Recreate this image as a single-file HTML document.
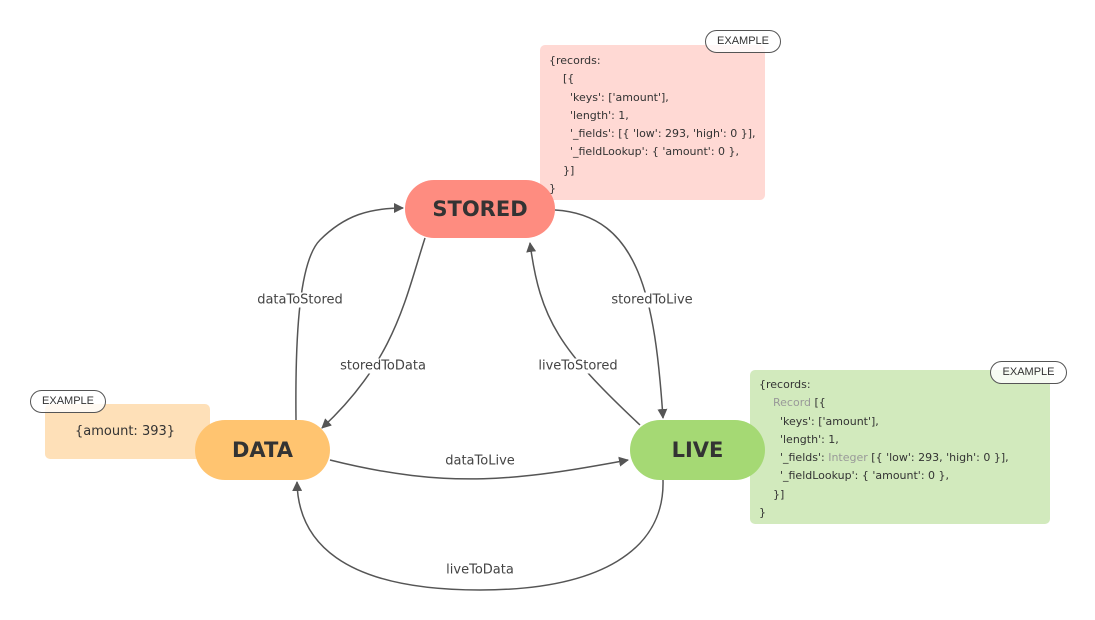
<!DOCTYPE html>
<html><head><meta charset="utf-8"><style>
body{margin:0;width:1095px;height:620px;background:#fff;position:relative;overflow:hidden;font-family:"DejaVu Sans","Liberation Sans",sans-serif;}
.box{position:absolute;border-radius:5px;font-size:11px;color:#333;line-height:18.3px;}
.pill{position:absolute;border-radius:30px;font-weight:bold;font-size:21px;color:#333;display:flex;align-items:center;justify-content:center;}
.badge{position:absolute;border:1px solid #555;border-radius:12px;background:rgba(255,255,255,0.8);font-family:"Liberation Sans",sans-serif;font-size:11px;color:#333;text-align:center;line-height:21px;height:21px;}
.lbl{position:absolute;font-size:13px;color:#444;background:#fff;transform:translate(-50%,-50%);white-space:nowrap;padding:0 2px;}
pre{margin:0;font:inherit;}
.g{color:#999;}
</style></head><body>
<svg width="1095" height="620" style="position:absolute;left:0;top:0">
<defs><marker id="a" markerWidth="10" markerHeight="10" refX="9" refY="5" orient="auto" markerUnits="userSpaceOnUse"><path d="M0,0 L10,5 L0,10 Z" fill="#555"/></marker></defs>
<g fill="none" stroke="#555" stroke-width="1.5">
<path d="M296,420 C295,330 300,260 320,240 C345,215 370,208 403,208" marker-end="url(#a)"/>
<path d="M425,238 C405,300 395,360 322,428" marker-end="url(#a)"/>
<path d="M555,210 C640,215 655,300 663,418" marker-end="url(#a)"/>
<path d="M640,425 C560,350 540,320 530,243" marker-end="url(#a)"/>
<path d="M330,460 C450,490 520,480 628,460" marker-end="url(#a)"/>
<path d="M663,480 C665,550 600,590 480,590 C340,590 298,540 297,482" marker-end="url(#a)"/>
</g></svg>
<div class="box" style="left:540px;top:45px;width:225px;height:155px;background:#ffd9d4"><pre style="padding:7px 0 0 9px">{records:
    [{
      'keys': ['amount'],
      'length': 1,
      '_fields': [{ 'low': 293, 'high': 0 }],
      '_fieldLookup': { 'amount': 0 },
    }]
}</pre></div>
<div class="badge" style="left:705px;top:30px;width:74px">EXAMPLE</div>
<div class="box" style="left:750px;top:370px;width:300px;height:154px;background:#d2eabd"><pre style="padding:6px 0 0 9px">{records:
    <span class="g">Record</span> [{
      'keys': ['amount'],
      'length': 1,
      '_fields': <span class="g">Integer</span> [{ 'low': 293, 'high': 0 }],
      '_fieldLookup': { 'amount': 0 },
    }]
}</pre></div>
<div class="badge" style="left:990px;top:361px;width:75px">EXAMPLE</div>
<div class="box" style="left:45px;top:404px;width:165px;height:55px;background:#fee0b8;font-size:13px"><div style="padding:19px 0 0 30px">{amount: 393}</div></div>
<div class="badge" style="left:30px;top:390px;width:74px">EXAMPLE</div>
<div class="pill" style="left:405px;top:180px;width:150px;height:58px;background:#fe8c80">STORED</div>
<div class="pill" style="left:195px;top:420px;width:135px;height:60px;background:#ffc470">DATA</div>
<div class="pill" style="left:630px;top:420px;width:135px;height:60px;background:#a5d974">LIVE</div>
<div class="lbl" style="left:300px;top:300px">dataToStored</div>
<div class="lbl" style="left:383px;top:366px">storedToData</div>
<div class="lbl" style="left:652px;top:300px">storedToLive</div>
<div class="lbl" style="left:578px;top:366px">liveToStored</div>
<div class="lbl" style="left:480px;top:461px">dataToLive</div>
<div class="lbl" style="left:480px;top:570px">liveToData</div>
</body></html>
